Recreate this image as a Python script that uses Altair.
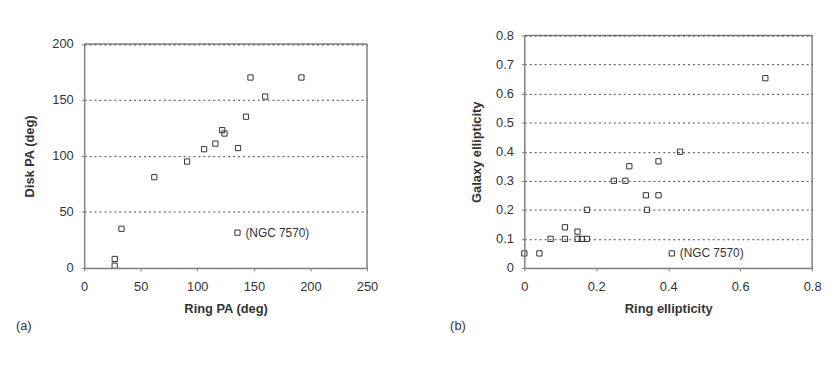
import altair as alt
import pandas as pd

FONT = "Liberation Sans"

# Panel (a): Ring PA vs Disk PA (deg)
ring_pa = [27, 27, 33, 62, 91, 106, 116, 122, 124, 136, 143, 160, 147, 192]
disk_pa = [8, 2, 35, 81, 95, 106, 111, 123, 120, 107, 135, 153, 170, 170]
ngc_pa_ring = [135.5]
ngc_pa_disk = [31.5]
pa_x_ticks = [0, 50, 100, 150, 200, 250]
pa_y_ticks = [0, 50, 100, 150, 200]

# Panel (b): Ring ellipticity vs Galaxy ellipticity
ring_e = [0.0, 0.042, 0.073, 0.113, 0.113, 0.148, 0.148, 0.16, 0.174, 0.174,
          0.249, 0.281, 0.292, 0.338, 0.373, 0.341, 0.373, 0.433, 0.67]
gal_e = [0.05, 0.05, 0.1, 0.1, 0.14, 0.125, 0.1, 0.1, 0.1, 0.2,
         0.3, 0.3, 0.35, 0.25, 0.25, 0.2, 0.367, 0.4, 0.653]
ngc_e_ring = [0.41]
ngc_e_gal = [0.05]
e_x_ticks = [0, 0.2, 0.4, 0.6, 0.8]
e_y_ticks = [0, 0.1, 0.2, 0.3, 0.4, 0.5, 0.6, 0.7, 0.8]

ngc_label = ["(NGC 7570)"]

AX = dict(domain=True, ticks=True, domainColor="#808080", domainWidth=1.5,
          domainOpacity=1, tickColor="#808080", tickSize=3, labelOverlap=False,
          labelFlush=False)


def panel(xs, ys, nx, ny, xticks, yticks, xtitle, ytitle, fmt, w, h, yrange,
          tag, tag_dx, ytp):
    xmax, ymax = xticks[-1], yticks[-1]
    df = pd.DataFrame({"x": xs, "y": ys})
    ngc = pd.DataFrame({"x": nx, "y": ny, "t": ngc_label})
    border = pd.DataFrame({"x": [xticks[0], xmax], "x1": [xmax, xmax],
                           "y": [ymax, yticks[0]], "y1": [ymax, ymax]})
    if yrange is not None:
        yscale = alt.Scale(domain=[yticks[0], ymax], nice=False, zero=False, range=yrange)
    else:
        yscale = alt.Scale(domain=[yticks[0], ymax], nice=False, zero=False)
    xscale = alt.Scale(domain=[xticks[0], xmax], nice=False, zero=False)
    xaxis = alt.Axis(values=xticks, format=fmt, title=xtitle, grid=False,
                     labelPadding=10, titlePadding=9, zindex=1, **AX)
    yaxis = alt.Axis(values=yticks, format=fmt, title=ytitle, grid=True,
                     labelPadding=8, titlePadding=ytp, zindex=1, **AX)
    xenc = alt.X("x:Q", scale=xscale, axis=xaxis)
    yenc = alt.Y("y:Q", scale=yscale, axis=yaxis)

    brd = alt.Chart(border).mark_rule(color="#808080", strokeWidth=1.5).encode(
        x=xenc, x2="x1:Q", y=yenc, y2="y1:Q")
    pts = alt.Chart(df).mark_point(shape="square", filled=False, size=28,
                                   color="#333333", strokeWidth=1, opacity=1).encode(x=xenc, y=yenc)
    npt = alt.Chart(ngc).mark_point(shape="square", filled=False, size=28,
                                    color="#333333", strokeWidth=1, opacity=1).encode(x=xenc, y=yenc)
    ntx = alt.Chart(ngc).mark_text(align="left", baseline="middle", dx=8, font=FONT,
                                   fontSize=12, color="#333333").encode(x=xenc, y=yenc, text="t:N")
    return alt.layer(brd, pts, npt, ntx).properties(
        width=w, height=h,
        title=alt.TitleParams(tag, orient="bottom", anchor="start", frame="group",
                              dx=tag_dx, offset=5, font=FONT, fontSize=13,
                              fontWeight="normal", color="#333333"))


left = panel(ring_pa, disk_pa, ngc_pa_ring, ngc_pa_disk, pa_x_ticks, pa_y_ticks,
             "Ring PA (deg)", "Disk PA (deg)", "d", 286, 235, [235, 8.5], "(a)", -69, 16)
right = panel(ring_e, gal_e, ngc_e_ring, ngc_e_gal, e_x_ticks, e_y_ticks,
              "Ring ellipticity", "Galaxy ellipticity", "~g", 291, 235, None, "(b)", -75, 12)

chart = alt.hconcat(left, right, spacing=73).properties(
    padding={"left": 8, "top": 20, "right": 0, "bottom": 0},
    background="white"
).configure_view(stroke=None).configure_axis(
    labelFont=FONT, labelFontSize=13, labelColor="#333333",
    titleFont=FONT, titleFontSize=13, titleFontWeight="bold", titleColor="#333333",
    gridColor="#444444", gridDash=[2, 3], gridWidth=1
)

chart.save("out.html", embed_options={"renderer": "svg", "actions": False})
